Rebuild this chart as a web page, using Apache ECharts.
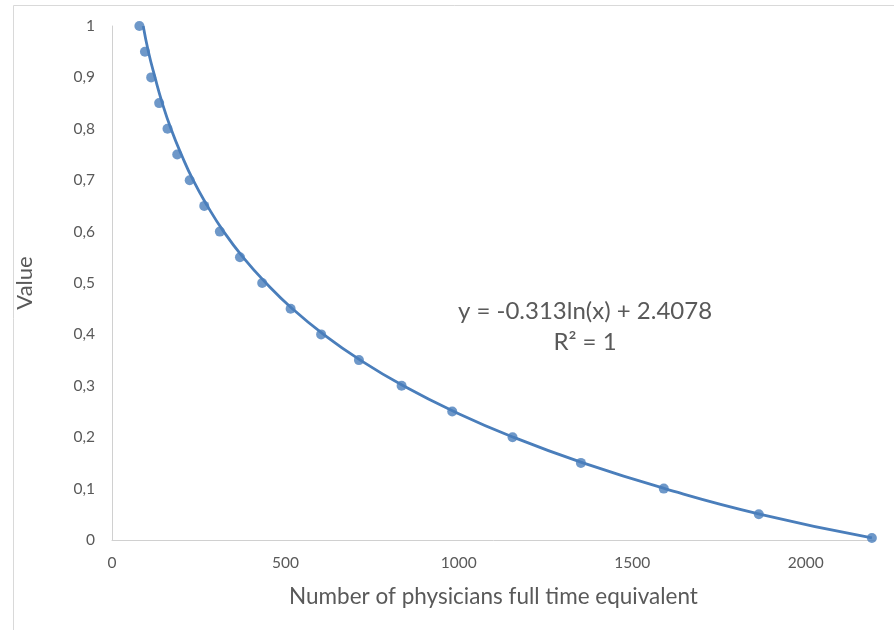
<!DOCTYPE html>
<html><head><meta charset="utf-8">
<script src="https://cdn.jsdelivr.net/npm/echarts@6/dist/echarts.min.js"></script>
<style>html,body{margin:0;padding:0;background:#fff}#c{width:894px;height:630px}</style>
</head><body><div id="c"></div>
<script>
// Observed data points (x = physicians FTE, y = value)
var pointX = [79, 95, 113, 136, 160, 188, 224, 266, 311, 369, 433, 515, 603, 712, 835, 981, 1155, 1352, 1591, 1865, 2191];
var pointY = [1, 0.95, 0.9, 0.85, 0.8, 0.75, 0.7, 0.65, 0.6, 0.55, 0.5, 0.45, 0.4, 0.35, 0.3, 0.25, 0.2, 0.15, 0.1, 0.05, 0.004];
// Trend line positions
var trendX = [90, 105, 124, 145, 170, 200, 234, 275, 322, 378, 444, 520, 610, 716, 840, 986, 1157, 1358, 1594, 1870, 2191];
var trendY = [1, 0.95, 0.9, 0.85, 0.8, 0.75, 0.7, 0.65, 0.6, 0.55, 0.5, 0.45, 0.4, 0.35, 0.3, 0.25, 0.2, 0.15, 0.1, 0.05, 0.004];
var xTitle = 'Number of physicians full time equivalent';
var yTitle = 'Value';
var eqLine1 = 'y = -0.313ln(x) + 2.4078';
var eqLine2 = 'R² = 1';

var font = 'Lato, "Open Sans", sans-serif';
var col = '#4a7ebb';
var chart = echarts.init(document.getElementById('c'), null, {renderer: 'canvas'});
chart.setOption({
  animation: false,
  backgroundColor: '#fff',
  grid: {left: 112, top: 26, right: 19, bottom: 90, containLabel: false},
  xAxis: {
    type: 'value', min: 0, max: 2200, interval: 500,
    axisLine: {show: true, lineStyle: {color: '#d0d0d0', width: 1}},
    axisTick: {show: false}, splitLine: {show: false},
    axisLabel: {color: '#595959', fontSize: 15.5, fontFamily: font, margin: 15, showMaxLabel: false,
      formatter: function (v) { return String(v); }},
    name: xTitle, nameLocation: 'middle', nameGap: 45,
    nameTextStyle: {color: '#595959', fontSize: 22.5, fontFamily: font}
  },
  yAxis: {
    type: 'value', min: 0, max: 1, interval: 0.1,
    axisLine: {show: true, lineStyle: {color: '#d0d0d0', width: 1}},
    axisTick: {show: false}, splitLine: {show: false},
    axisLabel: {color: '#595959', fontSize: 15.5, fontFamily: font, margin: 17,
      formatter: function (v) { return String(Math.round(v * 10) / 10).replace('.', ','); }},
    name: yTitle, nameLocation: 'middle', nameGap: 76, nameRotate: 90,
    nameTextStyle: {color: '#595959', fontSize: 22, fontFamily: font}
  },
  series: [
    {
      type: 'line', smooth: true, showSymbol: false, z: 3,
      data: trendX.map(function (x, i) { return [x, trendY[i]]; }),
      lineStyle: {color: col, width: 2.8}
    },
    {
      type: 'scatter', symbol: 'circle', symbolSize: 10, z: 4,
      data: pointX.map(function (x, i) { return [x, pointY[i]]; }),
      itemStyle: {color: col}
    }
  ],
  graphic: [
    {type: 'rect', shape: {x: 13.5, y: 5.5, width: 900, height: 700}, style: {fill: 'none', stroke: '#d9d9d9', lineWidth: 1}, z: 0, silent: true},
    {type: 'text', z: 10,
      style: {text: eqLine1, fill: '#595959', font: '24px ' + font, x: 585, y: 311, textAlign: 'center', textVerticalAlign: 'middle'}},
    {type: 'text', z: 10,
      style: {text: eqLine2, fill: '#595959', font: '24px ' + font, x: 585, y: 342, textAlign: 'center', textVerticalAlign: 'middle'}}
  ]
});
</script></body></html>
